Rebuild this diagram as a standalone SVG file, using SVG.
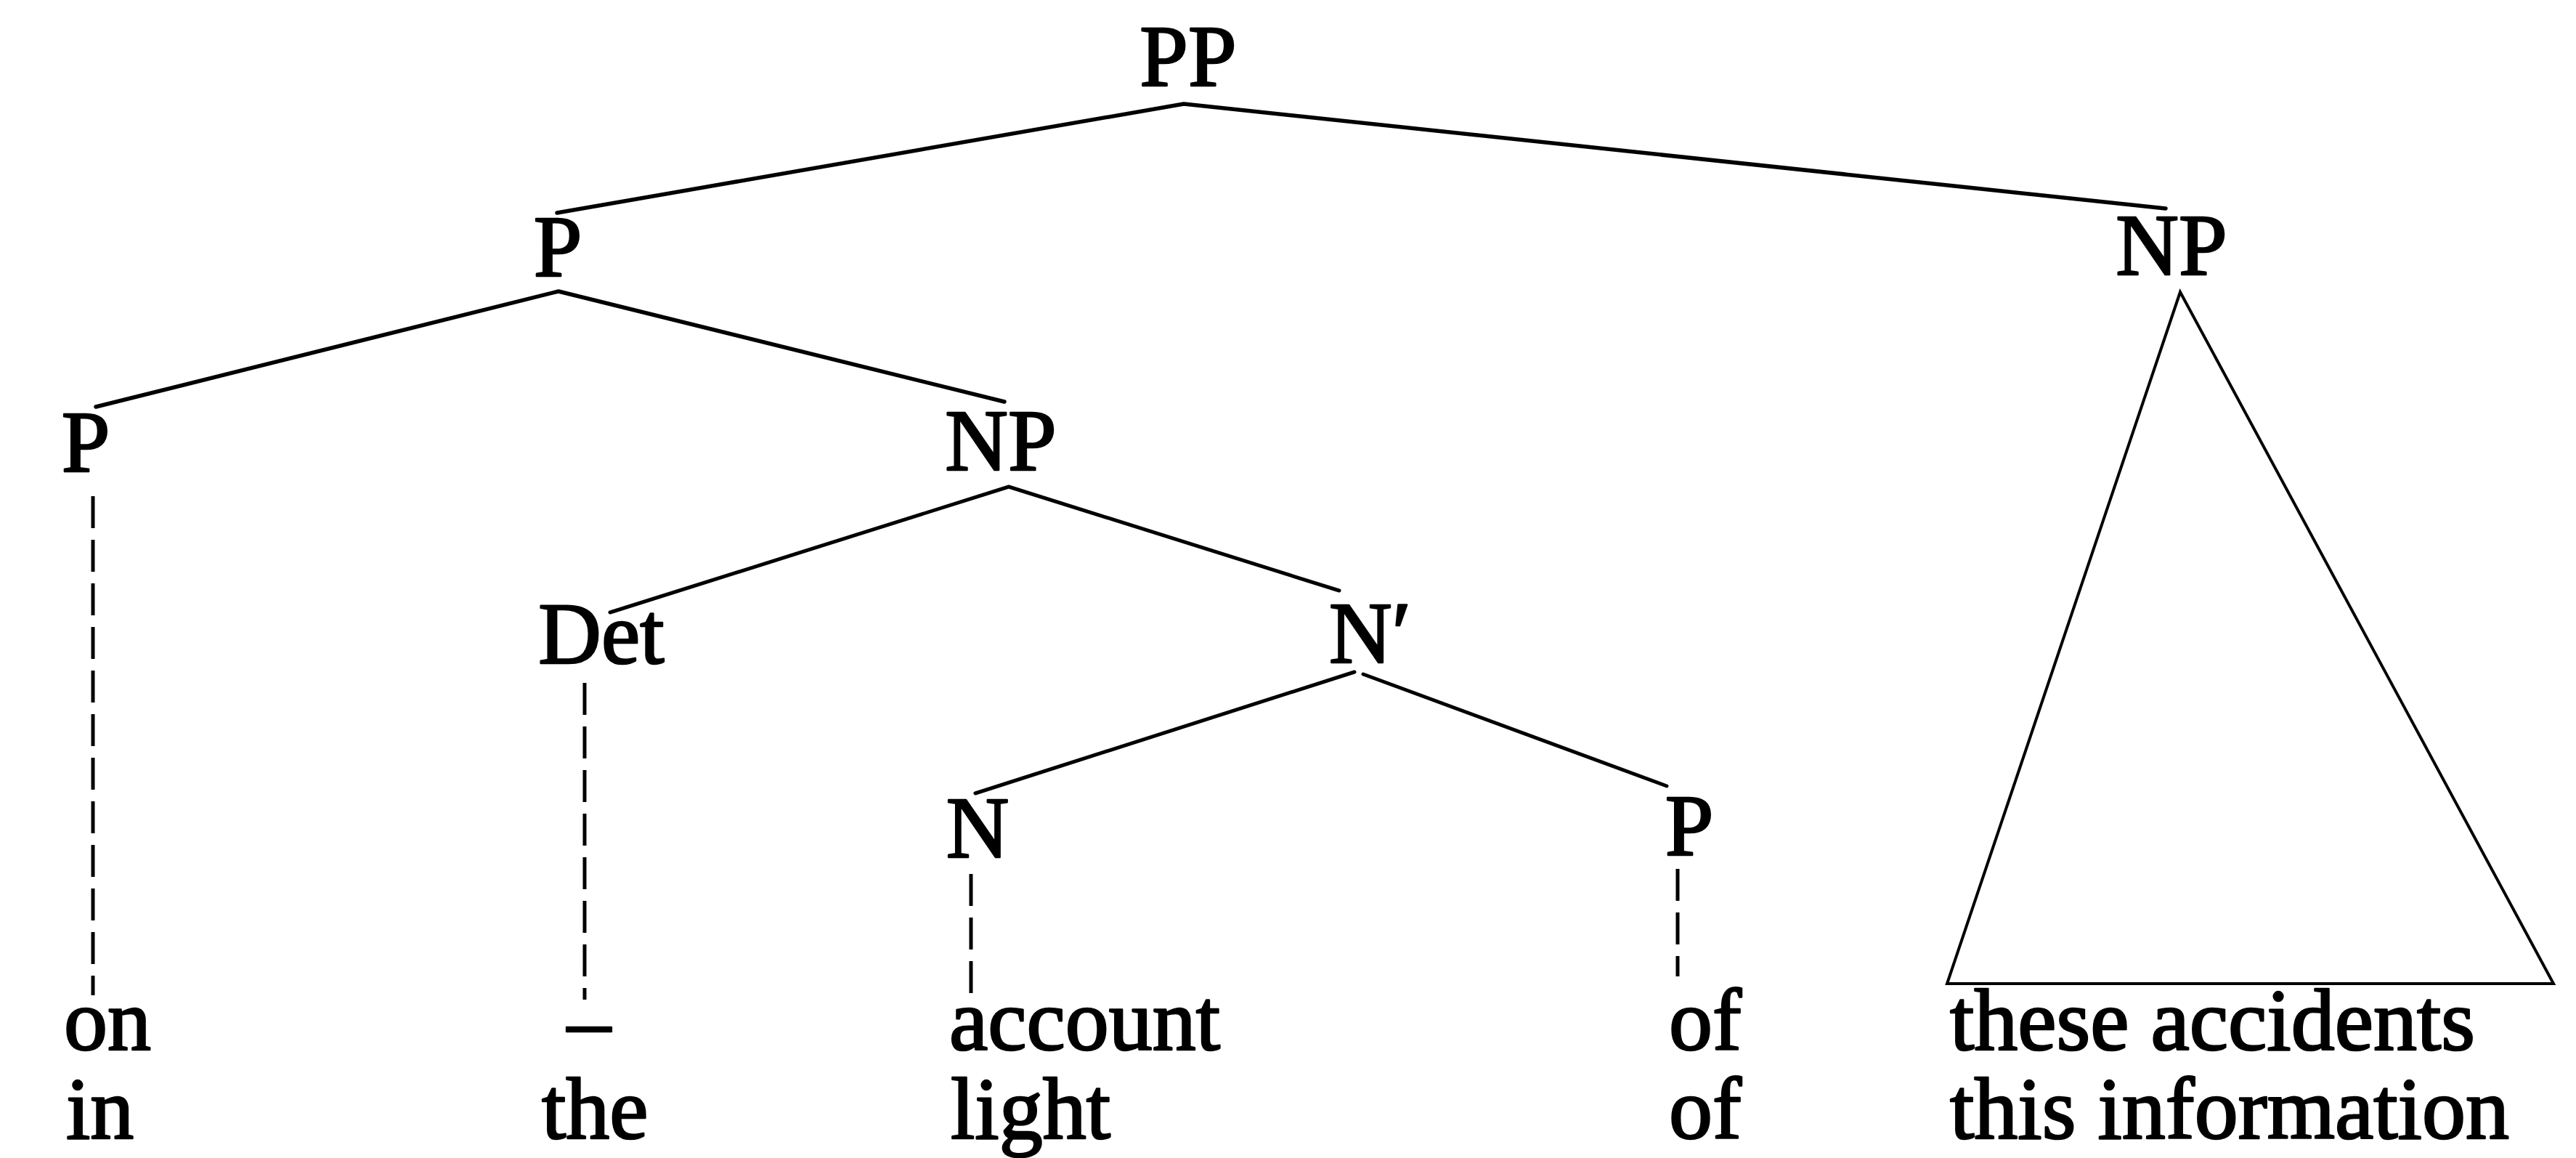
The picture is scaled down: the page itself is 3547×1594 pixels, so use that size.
<svg xmlns="http://www.w3.org/2000/svg" width="3547" height="1594" viewBox="0 0 3547 1594">
  <style>
    .lbl { font-family: "Liberation Serif", "Times New Roman", serif; font-size: 120px; fill: #000; stroke: #000; stroke-width: 2.6; stroke-linejoin: round; }
    .mid { text-anchor: middle; }
    .edge { fill: none; stroke: #000; stroke-width: 5.5; stroke-linecap: round; stroke-linejoin: round; }
    .edge2 { fill: none; stroke: #000; stroke-width: 5; stroke-linecap: round; stroke-linejoin: round; }
    .dash { fill: none; stroke: #000; stroke-width: 5; stroke-dasharray: 44 16; }
    .tri { fill: none; stroke: #000; stroke-width: 4; stroke-linejoin: miter; }
  </style>
  <rect width="3547" height="1594" fill="#fff"/>

  <g id="connectors">
    <polyline class="edge" points="767,293 1630,143 2982,287"/>
    <polyline class="edge" points="132,560 769,401 1383,553"/>
    <polyline class="edge2" points="840,843 1389,670 1844,813"/>
    <line class="edge2" x1="1865" y1="925" x2="1343" y2="1092"/>
    <line class="edge2" x1="1877" y1="928" x2="2295" y2="1082"/>
    <line class="dash" x1="128" y1="683" x2="128" y2="1370"/>
    <line class="dash" x1="805" y1="940" x2="805" y2="1376"/>
    <line class="dash" x1="1337" y1="1203" x2="1337" y2="1368"/>
    <line class="dash" x1="2310" y1="1196" x2="2310" y2="1344"/>
    <polygon class="tri" points="3002,402 2681,1354 3516,1354"/>
  </g>

  <g id="node-PP"><text class="lbl mid" x="1636" y="118">PP</text></g>
  <g id="node-P1"><text class="lbl mid" x="768" y="380">P</text></g>
  <g id="node-NP1"><text class="lbl mid" x="2990" y="378">NP</text></g>
  <g id="node-P2"><text class="lbl mid" x="118" y="649">P</text></g>
  <g id="node-NP2"><text class="lbl mid" x="1378" y="647">NP</text></g>
  <g id="node-Det"><text class="lbl mid" x="828" y="913">Det</text></g>
  <g id="node-Nbar"><text class="lbl" x="1830" y="912">N′</text></g>
  <g id="node-N"><text class="lbl mid" x="1346" y="1180">N</text></g>
  <g id="node-P3"><text class="lbl mid" x="2326" y="1177">P</text></g>

  <g id="leaves">
    <text class="lbl" x="88" y="1445">on</text>
    <text class="lbl" x="781" y="1445">–</text>
    <text class="lbl" x="1307" y="1445">account</text>
    <text class="lbl" x="2298" y="1445">of</text>
    <text class="lbl" x="2685" y="1445">these accidents</text>
    <text class="lbl" x="91" y="1567">in</text>
    <text class="lbl" x="746" y="1567">the</text>
    <text class="lbl" x="1309" y="1567">light</text>
    <text class="lbl" x="2298" y="1567">of</text>
    <text class="lbl" x="2685" y="1567">this information</text>
  </g>
</svg>
